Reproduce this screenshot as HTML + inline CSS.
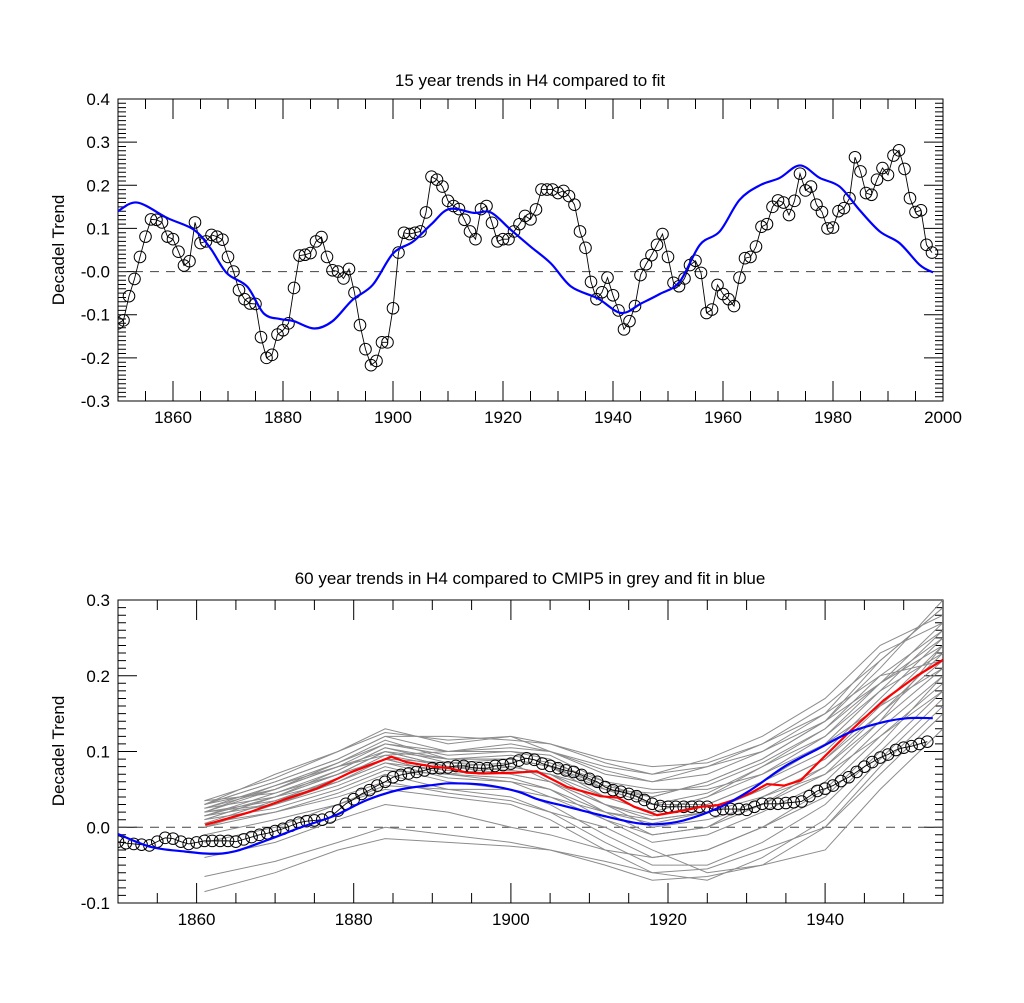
<!DOCTYPE html>
<html><head><meta charset="utf-8">
<style>
html,body{margin:0;padding:0;background:#fff;}
svg{display:block;font-family:"Liberation Sans",Arial,sans-serif;}
</style></head>
<body>
<svg id="chart" width="1024" height="1003" viewBox="0 0 1024 1003" xmlns="http://www.w3.org/2000/svg">
<text x="530" y="86" font-size="17" text-anchor="middle">15 year trends in H4 compared to fit</text>
<text transform="translate(64,250) rotate(-90)" font-size="17" text-anchor="middle">Decadel Trend</text>
<text x="530" y="584" font-size="17" text-anchor="middle">60 year trends in H4 compared to CMIP5 in grey and fit in blue</text>
<text transform="translate(64,751) rotate(-90)" font-size="17" text-anchor="middle">Decadel Trend</text>
<g id="top"></g>
<g id="bot"></g>
</svg>
<script>
// ---- Top chart data ----
const topStartYear = 1850;
const topObs = [-0.12,-0.113,-0.057,-0.017,0.034,0.081,0.121,0.12,0.114,0.081,
0.075,0.046,0.014,0.024,0.114,0.066,0.07,0.085,0.081,0.074,
0.034,0.0,-0.043,-0.064,-0.074,-0.075,-0.152,-0.2,-0.193,-0.146,
-0.136,-0.12,-0.038,0.037,0.039,0.043,0.07,0.08,0.034,0.003,
0.0,-0.016,0.006,-0.049,-0.124,-0.18,-0.217,-0.207,-0.164,-0.164,
-0.085,0.044,0.09,0.087,0.09,0.093,0.137,0.22,0.213,0.197,
0.164,0.152,0.145,0.12,0.093,0.075,0.145,0.152,0.113,0.07,
0.075,0.075,0.093,0.11,0.129,0.121,0.144,0.19,0.19,0.19,
0.182,0.187,0.175,0.155,0.093,0.055,-0.024,-0.064,-0.048,-0.014,
-0.055,-0.09,-0.134,-0.115,-0.08,-0.008,0.017,0.038,0.062,0.087,
0.034,-0.026,-0.034,-0.016,0.015,0.025,-0.003,-0.096,-0.088,-0.031,
-0.052,-0.064,-0.08,-0.014,0.031,0.034,0.058,0.104,0.11,0.15,
0.165,0.16,0.131,0.164,0.227,0.188,0.197,0.155,0.138,0.1,
0.102,0.14,0.147,0.17,0.265,0.232,0.182,0.178,0.213,0.24,
0.224,0.269,0.281,0.238,0.17,0.138,0.142,0.062,0.044];
const topFitYears = [1850,1853.5,1859,1863.8,1866.8,1869.8,1873.5,1876.5,1879.5,1882,1885.7,1889,1892.6,1896.3,1900,1903.6,1907,1910.2,1914.7,1917.8,1921.4,1925,1928.7,1932.4,1937.2,1941.5,1945.1,1948.5,1952.1,1955.8,1959.4,1963,1966.7,1970.3,1974,1977.6,1981.2,1984.8,1988.5,1992.1,1995.8,1998.2];
const topFitVals = [0.14,0.16,0.124,0.097,0.054,-0.004,-0.035,-0.097,-0.11,-0.115,-0.132,-0.115,-0.066,-0.031,0.042,0.069,0.11,0.145,0.136,0.137,0.097,0.058,0.019,-0.035,-0.062,-0.096,-0.074,-0.052,-0.024,0.062,0.093,0.166,0.2,0.217,0.246,0.217,0.197,0.143,0.093,0.066,0.015,-0.002];
const topYTicks = [0.4,0.3,0.2,0.1,0.0,-0.1,-0.2,-0.3];
const topYLabels = ["0.4","0.3","0.2","0.1","-0.0","-0.1","-0.2","-0.3"];
const topXTicks = [1860,1880,1900,1920,1940,1960,1980,2000];

// ---- Bottom chart data ----
const botStartYear = 1850;
const botObs = [-0.019,-0.021,-0.022,-0.023,-0.024,-0.019,-0.014,-0.015,-0.019,-0.022,
-0.02,-0.018,-0.018,-0.018,-0.018,-0.019,-0.016,-0.013,-0.01,-0.008,
-0.005,-0.002,0.002,0.006,0.008,0.009,0.01,0.013,0.022,0.031,
0.037,0.044,0.049,0.055,0.06,0.066,0.069,0.071,0.073,0.075,
0.078,0.078,0.079,0.081,0.081,0.079,0.078,0.078,0.081,0.082,
0.084,0.088,0.091,
0.089,0.084,0.081,0.078,0.075,0.073,0.069,0.064,0.06,0.053,
0.049,0.047,0.044,0.041,0.036,0.031,0.028,0.027,0.027,0.027,
0.027,0.027,0.027,0.022,0.024,0.024,0.024,0.023,0.027,0.031,
0.031,0.031,0.032,0.033,0.034,0.041,0.048,0.051,0.055,0.061,
0.066,0.073,0.08,0.086,0.092,0.096,0.102,0.105,0.107,0.11,0.113];
const botFitYears = [1850,1854.2,1858.5,1861.9,1864.8,1869,1873.3,1877.5,1881.7,1886,1890.3,1892.4,1896.6,1900.9,1903.4,1907.2,1911.4,1915.7,1918.6,1922,1926.3,1930.5,1934.8,1939,1943.3,1947.5,1950.5,1953.7];
const botFitVals = [-0.009,-0.026,-0.032,-0.035,-0.032,-0.017,0.0,0.015,0.036,0.05,0.056,0.058,0.056,0.047,0.037,0.027,0.016,0.006,0.004,0.009,0.025,0.049,0.08,0.103,0.126,0.139,0.144,0.144];
const botMeanYears = [1861.1,1866.8,1871,1875.3,1879.5,1884.8,1886.7,1890.1,1892.2,1894.4,1896.5,1900.7,1903.3,1903.8,1907.2,1911.4,1913.6,1915.7,1918.6,1922,1924.2,1926.3,1928.4,1930.5,1932.6,1934.8,1936.9,1939,1943.3,1947.5,1951.7,1955];
const botMeanVals = [0.003,0.02,0.036,0.051,0.072,0.093,0.086,0.08,0.078,0.072,0.071,0.072,0.074,0.071,0.053,0.041,0.039,0.027,0.016,0.022,0.027,0.029,0.036,0.045,0.057,0.055,0.062,0.084,0.128,0.168,0.2,0.221];
const cmipYears = [1861,1870,1878,1884,1892,1900,1905,1912,1918,1925,1932,1940,1947,1955];
const cmipRuns = [
[0.035,0.065,0.10,0.13,0.11,0.12,0.10,0.07,0.06,0.08,0.11,0.16,0.22,0.29],
[0.03,0.06,0.09,0.12,0.10,0.10,0.09,0.05,0.04,0.06,0.09,0.14,0.21,0.30],
[0.025,0.055,0.085,0.115,0.09,0.09,0.08,0.04,0.02,0.04,0.07,0.12,0.19,0.27],
[0.02,0.05,0.08,0.11,0.095,0.10,0.095,0.06,0.03,0.03,0.06,0.10,0.17,0.25],
[0.015,0.045,0.075,0.105,0.085,0.08,0.07,0.03,0.01,0.02,0.05,0.09,0.15,0.23],
[0.01,0.04,0.07,0.10,0.08,0.085,0.06,0.02,-0.01,0.0,0.04,0.08,0.14,0.21],
[0.03,0.05,0.08,0.095,0.10,0.11,0.10,0.08,0.07,0.09,0.12,0.17,0.24,0.28],
[0.025,0.04,0.07,0.09,0.07,0.06,0.05,0.01,-0.02,-0.01,0.02,0.06,0.13,0.20],
[0.02,0.035,0.06,0.085,0.075,0.07,0.06,0.03,0.0,0.01,0.03,0.07,0.14,0.24],
[0.015,0.03,0.055,0.08,0.06,0.05,0.03,-0.01,-0.04,-0.03,0.0,0.05,0.12,0.19],
[0.01,0.025,0.05,0.075,0.07,0.08,0.07,0.04,0.02,0.04,0.08,0.13,0.20,0.26],
[0.005,0.02,0.045,0.07,0.05,0.04,0.02,-0.02,-0.05,-0.05,-0.02,0.03,0.10,0.18],
[0.03,0.06,0.09,0.12,0.12,0.115,0.11,0.09,0.08,0.085,0.11,0.15,0.20,0.22],
[0.02,0.055,0.08,0.10,0.09,0.095,0.085,0.06,0.05,0.05,0.07,0.11,0.16,0.21],
[0.0,0.02,0.04,0.06,0.045,0.035,0.02,0.0,-0.03,-0.06,-0.05,0.0,0.08,0.16],
[-0.01,0.01,0.03,0.05,0.04,0.03,0.01,-0.03,-0.06,-0.07,-0.04,0.01,0.09,0.17],
[-0.04,-0.02,0.01,0.03,0.02,0.0,-0.01,-0.03,-0.04,-0.03,0.0,0.04,0.11,0.20],
[-0.065,-0.045,-0.02,0.0,-0.01,-0.02,-0.03,-0.045,-0.06,-0.055,-0.03,0.0,0.07,0.15],
[-0.085,-0.06,-0.03,-0.015,-0.02,-0.025,-0.03,-0.05,-0.07,-0.065,-0.05,-0.03,0.05,0.13],
[0.025,0.05,0.085,0.11,0.10,0.105,0.10,0.075,0.06,0.07,0.10,0.15,0.23,0.27],
[0.035,0.045,0.07,0.10,0.08,0.075,0.07,0.05,0.03,0.045,0.08,0.12,0.18,0.23],
[0.02,0.03,0.065,0.09,0.085,0.09,0.08,0.05,0.045,0.055,0.085,0.13,0.19,0.25],
[0.01,0.04,0.06,0.085,0.065,0.06,0.04,0.01,-0.01,0.0,0.03,0.08,0.15,0.22],
[0.0,0.03,0.06,0.09,0.07,0.065,0.05,0.02,0.005,0.02,0.05,0.09,0.16,0.24],
[-0.02,0.0,0.03,0.055,0.05,0.05,0.04,0.02,0.01,0.02,0.04,0.07,0.12,0.18],
[0.03,0.07,0.10,0.125,0.115,0.12,0.11,0.085,0.07,0.08,0.10,0.14,0.19,0.24],
[0.005,0.035,0.065,0.095,0.08,0.07,0.06,0.03,0.015,0.03,0.06,0.11,0.18,0.26],
[0.015,0.04,0.075,0.105,0.09,0.09,0.08,0.055,0.04,0.06,0.09,0.14,0.22,0.29]
];
const botYTicks = [0.3,0.2,0.1,0.0,-0.1];
const botYLabels = ["0.3","0.2","0.1","0.0","-0.1"];
const botXTicks = [1860,1880,1900,1920,1940];

const NS = "http://www.w3.org/2000/svg";
function mk(parent, tag, attrs){
  const e = document.createElementNS(NS, tag);
  for (const k in attrs) e.setAttribute(k, attrs[k]);
  parent.appendChild(e);
  return e;
}
function makeAxes(x0,x1,y0,y1,xmin,xmax,ymin,ymax){
  return {
    X: v => x0 + (v - xmin) / (xmax - xmin) * (x1 - x0),
    Y: v => y1 - (v - ymin) / (ymax - ymin) * (y1 - y0),
    x0, x1, y0, y1, xmin, xmax, ymin, ymax
  };
}
function pathFrom(xs, ys, ax){
  let d = "";
  for (let i = 0; i < xs.length; i++) d += (i ? "L" : "M") + ax.X(xs[i]).toFixed(2) + " " + ax.Y(ys[i]).toFixed(2);
  return d;
}
function smoothPath(xs, ys, ax){
  const P = xs.map((x, i) => [ax.X(x), ax.Y(ys[i])]);
  let d = "M" + P[0][0].toFixed(2) + " " + P[0][1].toFixed(2);
  for (let i = 0; i < P.length - 1; i++) {
    const p0 = P[Math.max(0, i - 1)], p1 = P[i], p2 = P[i + 1], p3 = P[Math.min(P.length - 1, i + 2)];
    const c1 = [p1[0] + (p2[0] - p0[0]) / 6, p1[1] + (p2[1] - p0[1]) / 6];
    const c2 = [p2[0] - (p3[0] - p1[0]) / 6, p2[1] - (p3[1] - p1[1]) / 6];
    d += "C" + c1[0].toFixed(2) + " " + c1[1].toFixed(2) + " " + c2[0].toFixed(2) + " " + c2[1].toFixed(2) + " " + p2[0].toFixed(2) + " " + p2[1].toFixed(2);
  }
  return d;
}
function drawFrame(g, ax, yTicks, yLabels, xTicks, yMinorStep, prefix){
  const fr = mk(g, "rect", {x: ax.x0, y: ax.y0, width: ax.x1 - ax.x0, height: ax.y1 - ax.y0, fill: "none", stroke: "#000", "stroke-width": 1});
  
  
  let d = "";
  for (let yr = ax.xmin; yr <= ax.xmax + 0.001; yr += 5) {
    const x = ax.X(yr).toFixed(1);
    const major = (yr % 20 === 0);
    const L = major ? 20 : 10;
    d += `M${x} ${ax.y1}V${ax.y1 - L}M${x} ${ax.y0}V${ax.y0 + L}`;
  }
  const n = Math.round((ax.ymax - ax.ymin) / yMinorStep);
  for (let i = 0; i <= n; i++) {
    const v = ax.ymin + i * yMinorStep;
    const y = ax.Y(v).toFixed(1);
    const major = (i % 10 === 0);
    const L = major ? 19 : 8;
    d += `M${ax.x0} ${y}H${ax.x0 + L}M${ax.x1} ${y}H${ax.x1 - L}`;
  }
  const tk = mk(g, "path", {d: d, stroke: "#000", "stroke-width": 1, fill: "none"});
  
  
  yTicks.forEach((v, i) => {
    const t = mk(g, "text", {x: ax.x0 - 8, y: ax.Y(v) + 6, "font-size": 17, "text-anchor": "end"});
    t.textContent = yLabels[i];
    
    
  });
  xTicks.forEach(v => {
    const t = mk(g, "text", {x: ax.X(v), y: ax.y1 + 22, "font-size": 17, "text-anchor": "middle"});
    t.textContent = String(v);
    
    
  });
  const z = mk(g, "line", {x1: ax.x0, x2: ax.x1, y1: ax.Y(0), y2: ax.Y(0), stroke: "#444", "stroke-width": 1, "stroke-dasharray": "9,7"});
  
  
}
function drawObs(g, startYear, vals, ax, prefix){
  const xs = vals.map((v, i) => startYear + i);
  const ln = mk(g, "path", {d: pathFrom(xs, vals, ax), stroke: "#000", "stroke-width": 0.9, fill: "none"});
  
  
  vals.forEach((v, i) => {
    const c = mk(g, "circle", {cx: ax.X(xs[i]), cy: ax.Y(v), r: 5.8, fill: "none", stroke: "#000", "stroke-width": 1});
    
    
  });
}

// Top chart
const gt = document.getElementById("top");
const axT = makeAxes(118, 943, 99, 401, 1850, 2000, -0.3, 0.4);
drawFrame(gt, axT, topYTicks, topYLabels, topXTicks, 0.01, "top");
const clipT = mk(gt, "clipPath", {id: "clipT"});
mk(clipT, "rect", {x: axT.x0, y: axT.y0, width: axT.x1 - axT.x0, height: axT.y1 - axT.y0});
const gtc = mk(gt, "g", {"clip-path": "url(#clipT)"});
drawObs(gtc, topStartYear, topObs, axT, "top");
const fitT = mk(gtc, "path", {d: smoothPath(topFitYears, topFitVals, axT), stroke: "#0000ff", "stroke-width": 2.2, fill: "none", "stroke-linejoin": "round"});



// Bottom chart
const gb = document.getElementById("bot");
const axB = makeAxes(118, 943, 600, 903, 1850, 1955, -0.1, 0.3);
drawFrame(gb, axB, botYTicks, botYLabels, botXTicks, 0.01, "bottom");
const clipB = mk(gb, "clipPath", {id: "clipB"});
mk(clipB, "rect", {x: axB.x0, y: axB.y0, width: axB.x1 - axB.x0, height: axB.y1 - axB.y0});
const gbc = mk(gb, "g", {"clip-path": "url(#clipB)"});
cmipRuns.forEach(run => {
  const p = mk(gbc, "path", {d: pathFrom(cmipYears, run, axB), stroke: "#8c8c8c", "stroke-width": 1, fill: "none"});
  
  
});
drawObs(gbc, botStartYear, botObs, axB, "bottom");
const meanB = mk(gbc, "path", {d: pathFrom(botMeanYears, botMeanVals, axB), stroke: "#ff0000", "stroke-width": 2.2, fill: "none", "stroke-linejoin": "round"});


const fitB = mk(gbc, "path", {d: smoothPath(botFitYears, botFitVals, axB), stroke: "#0000ff", "stroke-width": 2.2, fill: "none", "stroke-linejoin": "round"});


</script>
</body></html>
